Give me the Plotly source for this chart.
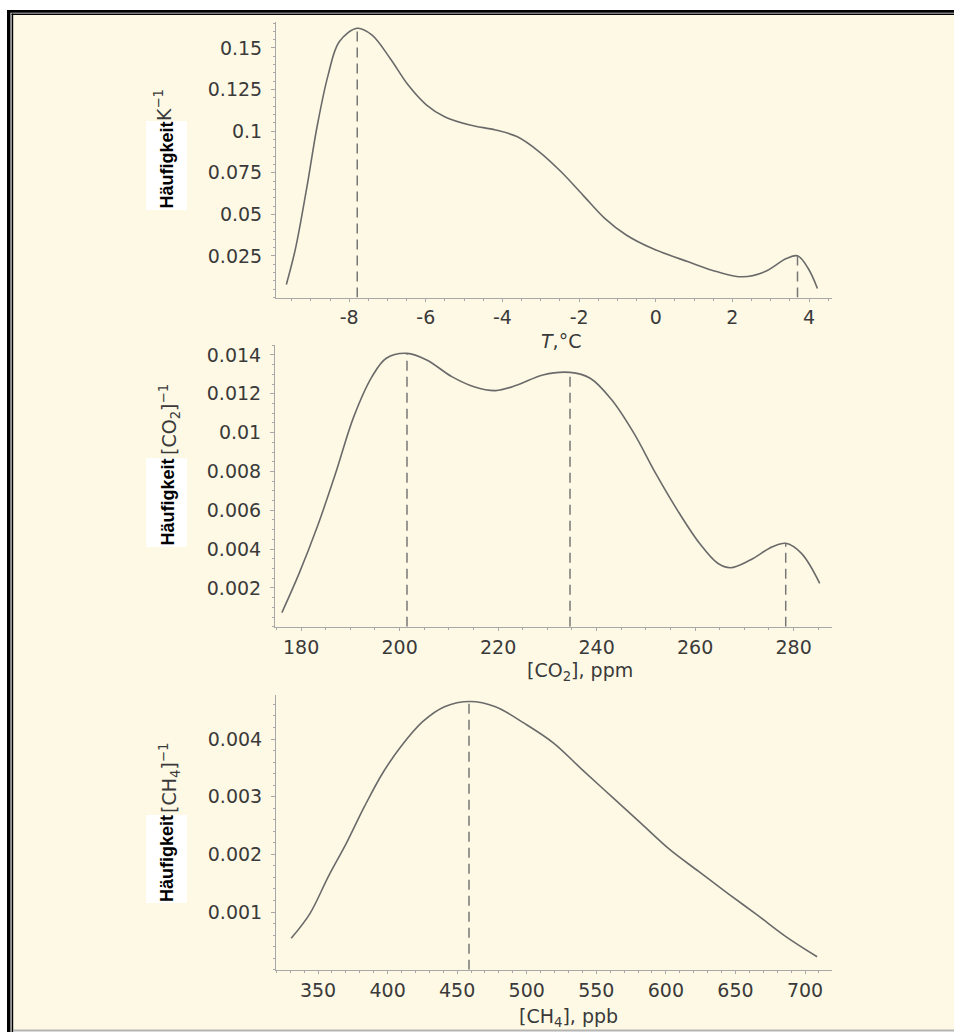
import plotly.graph_objects as go

# ---------------- data ----------------
# Panel 1: temperature anomaly density
temp_c = [-9.64, -9.40, -9.11, -8.83, -8.55, -8.26, -7.79, -7.41, -6.93, -6.46, -5.98, -5.51,
          -4.85, -4.18, -3.61, -3.04, -2.47, -1.90, -1.33, -0.77, -0.10, 0.85, 1.61, 2.27,
          2.84, 3.41, 3.70, 3.98, 4.22]
temp_density = [0.0079, 0.0296, 0.0656, 0.1037, 0.1337, 0.1537, 0.1618, 0.1578, 0.1437, 0.1277,
                0.1157, 0.1087, 0.1037, 0.1007, 0.0966, 0.0876, 0.0756, 0.0616, 0.0476, 0.0376,
                0.0296, 0.0215, 0.0155, 0.0125, 0.0155, 0.0235, 0.0251, 0.0175, 0.0055]
temp_modes = [-7.79, 3.70]
temp_mode_density = [0.1618, 0.0251]

# Panel 2: CO2 density
co2_ppm = [176.1, 179.6, 183.3, 187.0, 190.7, 194.4, 197.3, 201.5, 205.5, 210.6, 215.1, 219.5,
           223.9, 229.1, 234.6, 238.7, 243.1, 247.6, 252.0, 256.4, 260.9, 264.6, 267.2, 271.2,
           275.7, 278.4, 281.6, 285.3]
co2_density = [0.00073, 0.00275, 0.00516, 0.0079, 0.01082, 0.01288, 0.01383, 0.01408, 0.01374,
               0.01288, 0.01236, 0.01216, 0.01245, 0.01297, 0.0131, 0.0128, 0.01168, 0.00996,
               0.0079, 0.00601, 0.0043, 0.00327, 0.00304, 0.00344, 0.00412, 0.0043, 0.00378,
               0.00224]
co2_modes = [201.5, 234.6, 278.4]
co2_mode_density = [0.01408, 0.0131, 0.0043]

# Panel 3: CH4 density
ch4_ppb = [330.7, 344.3, 357.3, 370.3, 383.4, 396.5, 409.6, 425.2, 440.9, 459.2, 477.5, 498.4,
           519.3, 540.2, 561.1, 582.0, 602.9, 623.8, 644.7, 665.6, 686.5, 708.7]
ch4_density = [0.000544, 0.000978, 0.00161, 0.00219, 0.00283, 0.00341, 0.00387, 0.0043, 0.00456,
               0.00465, 0.00456, 0.00427, 0.00393, 0.00346, 0.003, 0.00254, 0.00208, 0.0017,
               0.00132, 0.00095, 0.00057, 0.000225]
ch4_modes = [458.5]
ch4_mode_density = [0.00465]

# tick labels
t_ticks = [-8, -6, -4, -2, 0, 2, 4]
t_ticktext = ["-8", "-6", "-4", "-2", "0", "2", "4"]
t_dens_ticks = [0.025, 0.05, 0.075, 0.1, 0.125, 0.15]
t_dens_text = ["0.025", "0.05", "0.075", "0.1", "0.125", "0.15"]
co2_ticks = [180, 200, 220, 240, 260, 280]
co2_dens_ticks = [0.002, 0.004, 0.006, 0.008, 0.01, 0.012, 0.014]
co2_dens_text = ["0.002", "0.004", "0.006", "0.008", "0.01", "0.012", "0.014"]
ch4_ticks = [350, 400, 450, 500, 550, 600, 650, 700]
ch4_dens_ticks = [0.001, 0.002, 0.003, 0.004]
ch4_dens_text = ["0.001", "0.002", "0.003", "0.004"]

# ---------------- figure ----------------
W, H = 954, 1032
CREAM = "#FEF9E5"
CURVE = "#6a6a6a"
AXIS = "#a8a8a8"
TXT = "#3a3a3a"
TICKFONT = dict(family="DejaVu Sans", size=19, color=TXT)


def fx(px):
    return px / W


def fy(py):
    return 1 - py / H


fig = go.Figure()


def add_panel(idx, xs, ys, modes, mode_h):
    xa = "x" if idx == 1 else f"x{idx}"
    ya = "y" if idx == 1 else f"y{idx}"
    fig.add_trace(go.Scatter(x=xs, y=ys, mode="lines", xaxis=xa, yaxis=ya,
                             line=dict(color=CURVE, width=1.6, shape="spline", smoothing=1.0),
                             hoverinfo="skip", showlegend=False))
    dx, dy = [], []
    for m, h in zip(modes, mode_h):
        dx += [m, m, None]
        dy += [0, h, None]
    fig.add_trace(go.Scatter(x=dx, y=dy, mode="lines", xaxis=xa, yaxis=ya,
                             line=dict(color="#777777", width=1.5, dash="10px,6px"),
                             hoverinfo="skip", showlegend=False))


add_panel(1, temp_c, temp_density, temp_modes, temp_mode_density)
add_panel(2, co2_ppm, co2_density, co2_modes, co2_mode_density)
add_panel(3, ch4_ppb, ch4_density, ch4_modes, ch4_mode_density)


def xaxis_cfg(dom, rng, tv, tt, anchor, minor_dtick):
    return dict(domain=dom, range=rng, anchor=anchor, tickvals=tv, ticktext=tt,
                showline=True, linecolor=AXIS, linewidth=1, showgrid=False, zeroline=False,
                ticks="outside", ticklen=3, tickcolor=AXIS, tickfont=TICKFONT,
                ticklabelstandoff=0,
                minor=dict(ticks="outside", ticklen=2, tickcolor=AXIS, dtick=minor_dtick,
                           showgrid=False),
                title=None, fixedrange=True)


def yaxis_cfg(dom, rng, tv, tt, anchor, minor_dtick):
    return dict(domain=dom, range=rng, anchor=anchor, tickvals=tv, ticktext=tt,
                showline=True, linecolor=AXIS, linewidth=1, showgrid=False, zeroline=False,
                ticks="outside", ticklen=4, tickcolor=AXIS, tickfont=TICKFONT,
                ticklabelstandoff=5,
                minor=dict(ticks="outside", ticklen=2, tickcolor=AXIS, dtick=minor_dtick,
                           showgrid=False),
                title=None, fixedrange=True)


fig.update_layout(
    width=W, height=H,
    margin=dict(l=0, r=0, t=0, b=0),
    paper_bgcolor="white",
    plot_bgcolor="rgba(0,0,0,0)",
    showlegend=False,
    xaxis=xaxis_cfg([fx(276), fx(832)], [-9.91, 4.6], t_ticks, t_ticktext, "y", 0.5),
    yaxis=yaxis_cfg([fy(297.6), fy(22)], [0, 0.1656], t_dens_ticks, t_dens_text, "x", 0.005),
    xaxis2=xaxis_cfg([fx(275), fx(832)], [174.7, 287.8], co2_ticks, [str(v) for v in co2_ticks], "y2", 5),
    yaxis2=yaxis_cfg([fy(626.8), fy(345)], [0, 0.01451], co2_dens_ticks, co2_dens_text, "x2", 0.0005),
    xaxis3=xaxis_cfg([fx(276), fx(832)], [319.8, 719.4], ch4_ticks, [str(v) for v in ch4_ticks], "y3", 10),
    yaxis3=yaxis_cfg([fy(969.7), fy(695)], [0, 0.004763], ch4_dens_ticks, ch4_dens_text, "x3", 0.0002),
)

# background and frame
shapes = []


def rect(x0, y0, x1, y1, color):
    shapes.append(dict(type="rect", xref="paper", yref="paper", layer="below",
                       x0=fx(x0), x1=fx(x1), y0=fy(y1), y1=fy(y0),
                       fillcolor=color, line=dict(width=0)))


rect(7, 10, W, H, "white")
rect(13, 15, W, 1030, CREAM)
rect(7, 10, 10.5, H, "black")      # thick left
rect(7, 10, W, 12.7, "black")      # thick top
rect(11.6, 13.6, 13.2, H, "black")  # thin left
rect(11.6, 13.6, W, 15, "black")    # thin top
rect(13, 1029.5, W, 1031.5, "#b4b4b4")  # bottom grey line
# white boxes behind the bold "Häufigkeit" labels
for (y0, y1) in ((121, 210), (458, 547), (815, 903)):
    rect(146, y0, 187, y1, "white")
fig.update_layout(shapes=shapes)

ann = []
BOLD = dict(family="Liberation Sans", size=18, color="black")
LBL = dict(family="DejaVu Sans", size=19, color=TXT)


def label(xc, yc, text, font):
    ann.append(dict(xref="paper", yref="paper", x=fx(xc), y=fy(yc), text=text,
                    showarrow=False, textangle=-90, font=font,
                    xanchor="center", yanchor="middle"))


# y-axis labels: bold word on white box + unit in grey
for yc in (165.5, 502.5, 859):
    label(167, yc, "<b>Häufigkeit</b>", BOLD)
label(163, 105, "K<sup>−1</sup>", LBL)
label(169, 420, "[CO<sub>2</sub>]<sup>−1</sup>", LBL)
label(169, 778, "[CH<sub>4</sub>]<sup>−1</sup>", LBL)


# x-axis titles
def xlabel(xc, yc, text):
    ann.append(dict(xref="paper", yref="paper", x=fx(xc), y=fy(yc), text=text,
                    showarrow=False, font=LBL, xanchor="center", yanchor="middle"))


xlabel(561, 341, "<i>T</i>,°C")
xlabel(580, 671, "[CO<sub>2</sub>], ppm")
xlabel(568, 1017, "[CH<sub>4</sub>], ppb")
fig.update_layout(annotations=ann)

fig.write_html("out.html", config={"displayModeBar": False},
               post_script="document.body.style.margin='0';")
